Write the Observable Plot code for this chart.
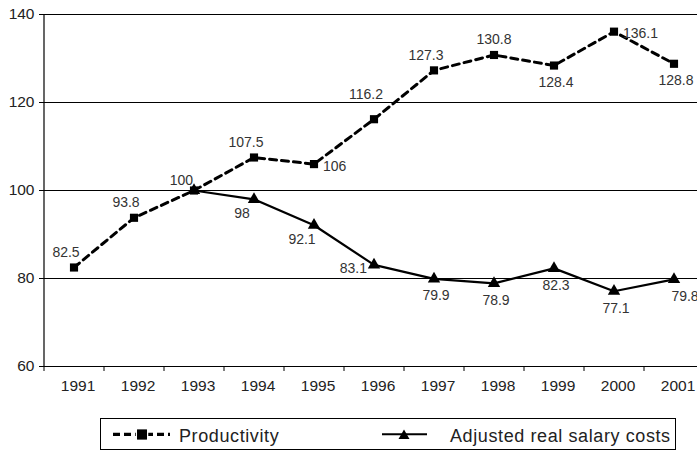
<!DOCTYPE html>
<html>
<head>
<meta charset="utf-8">
<script src="https://cdn.jsdelivr.net/npm/d3@7"></script>
<script src="https://cdn.jsdelivr.net/npm/@observablehq/plot@0.6"></script>
<style>
  html, body { margin: 0; padding: 0; background: #fff; }
  #wrap { width: 697px; height: 452px; overflow: hidden; position: relative; }
  #wrap svg { display: block; }
</style>
</head>
<body>
<div id="wrap"></div>
<script>
// ---- data ----
const years = [1991, 1992, 1993, 1994, 1995, 1996, 1997, 1998, 1999, 2000, 2001];
const productivity = [82.5, 93.8, 100, 107.5, 106, 116.2, 127.3, 130.8, 128.4, 136.1, 128.8];
const salaryYears = [1993, 1994, 1995, 1996, 1997, 1998, 1999, 2000, 2001];
const salaryCosts = [100, 98, 92.1, 83.1, 79.9, 78.9, 82.3, 77.1, 79.8];
// label placement (semantic direction codes)
const productivityLabelPlace = ["nw", "nw", "nwEnd", "nw", "e", "nnw", "nw", "n", "s", "e", "s"];
const salaryLabelPlace = [null, "sw", "sw", "w", "s", "s", "s", "s", "se"];
const yTicks = [60, 80, 100, 120, 140];
const gridTicks = [80, 100, 120, 140];
const seriesNames = ["Productivity", "Adjusted real salary costs"];

const FONT = '"Liberation Sans", Arial, Helvetica, sans-serif';

const prodData = years.map((year, i) => ({year, value: productivity[i], place: productivityLabelPlace[i]}));
const salData = salaryYears.map((year, i) => ({year, value: salaryCosts[i], place: salaryLabelPlace[i]}));
const allLabels = prodData.concat(salData).filter(d => d.place);

const placements = {
  n:     {dx: 0,  dy: -15, textAnchor: "middle"},
  nw:    {dx: -8, dy: -15, textAnchor: "middle"},
  nnw:   {dx: -8, dy: -25, textAnchor: "middle"},
  nwEnd: {dx: -1, dy: -10, textAnchor: "end"},
  e:     {dx: 9,  dy: 2,   textAnchor: "start"},
  w:     {dx: -7, dy: 4,   textAnchor: "end"},
  s:     {dx: 2,  dy: 17,  textAnchor: "middle"},
  sw:    {dx: -12, dy: 14, textAnchor: "middle"},
  se:    {dx: 11, dy: 17,  textAnchor: "middle"}
};

const labelMarks = Object.entries(placements).map(([code, opt]) =>
  Plot.text(allLabels.filter(d => d.place === code), {
    x: "year", y: "value", text: d => String(d.value),
    dx: opt.dx, dy: opt.dy, textAnchor: opt.textAnchor,
    fontSize: 14, fill: "#333"
  })
);

const boundaries = years.map(y => y - 0.5);

const chart = Plot.plot({
  width: 697,
  height: 400,
  marginTop: 14,
  marginBottom: 34,
  marginLeft: 43,
  marginRight: 0,
  style: {fontFamily: FONT, fontSize: "15px", color: "#222", background: "#fff"},
  x: {type: "linear", domain: [years[0] - 0.5, years[years.length - 1] + 0.5], range: [43.5, 703.5]},
  y: {domain: [60, 140]},
  marks: [
    Plot.gridY(gridTicks, {stroke: "#000", strokeOpacity: 1, strokeWidth: 1.2}),
    Plot.ruleY([60], {stroke: "#000", strokeWidth: 1.2}),
    Plot.ruleX([years[0] - 0.5], {y1: 60, y2: 140, stroke: "#000", strokeWidth: 1.2}),
    Plot.axisY(yTicks, {tickSize: 4, tickPadding: 5, fontSize: 15.5, stroke: "#000", label: null}),
    Plot.axisX(boundaries, {tickSize: 5, tickFormat: () => "", stroke: "#000", label: null}),
    Plot.axisX(years, {tickSize: 0, tickPadding: 13, tickFormat: d => String(d), fontSize: 15.5, dx: 4, label: null}),
    Plot.line(prodData, {x: "year", y: "value", stroke: "#000", strokeWidth: 3, strokeDasharray: "7,5"}),
    Plot.line(salData, {x: "year", y: "value", stroke: "#000", strokeWidth: 2.2}),
    Plot.dot(prodData, {x: "year", y: "value", symbol: "square", r: 4.6, fill: "#000"}),
    Plot.dot(salData, {x: "year", y: "value", symbol: "triangle", r: 4.6, fill: "#000"}),
    ...labelMarks
  ]
});

const wrap = document.getElementById("wrap");
wrap.appendChild(chart);

// ---- legend (below the plot) ----
const ns = "http://www.w3.org/2000/svg";
const leg = document.createElementNS(ns, "svg");
leg.setAttribute("width", 697);
leg.setAttribute("height", 52);
leg.setAttribute("style", `font-family:${FONT};`);
leg.innerHTML = `
  <rect x="100.5" y="18.5" width="575" height="31" fill="#fff" stroke="#000" stroke-width="1"/>
  <line x1="113" y1="34.3" x2="170" y2="34.3" stroke="#000" stroke-width="3.2" stroke-dasharray="7,4"/>
  <rect x="136.5" y="29" width="11" height="11" fill="#000" stroke="#fff" stroke-width="1.5"/>
  <rect x="137" y="29.5" width="10" height="10" fill="#000"/>
  <text x="179" y="41.5" font-size="18" letter-spacing="0.6" fill="#222">${seriesNames[0]}</text>
  <line x1="382" y1="34.3" x2="427" y2="34.3" stroke="#000" stroke-width="2"/>
  <path d="M404,29.5 L409.5,39 L398.5,39 Z" fill="#000"/>
  <text x="450" y="41.5" font-size="18" letter-spacing="0.6" fill="#222">${seriesNames[1]}</text>
`;
wrap.appendChild(leg);
</script>
</body>
</html>
